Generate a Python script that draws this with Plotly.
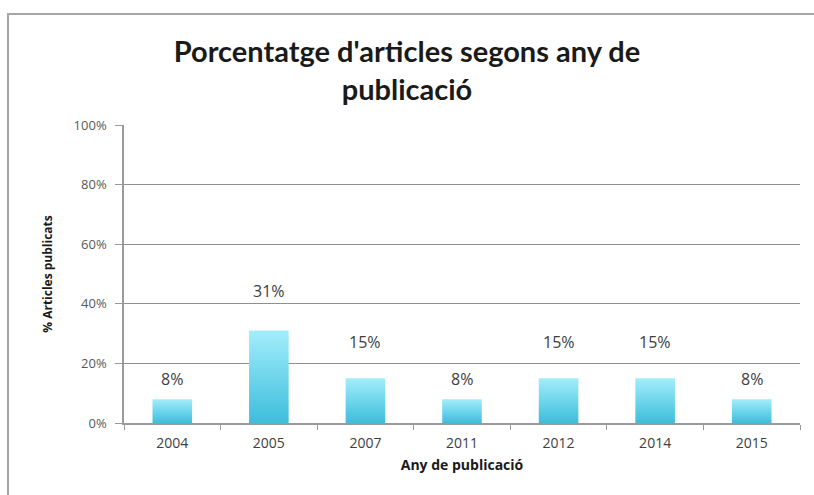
import plotly.graph_objects as go

# Share of articles by year of publication
years = ["2004", "2005", "2007", "2011", "2012", "2014", "2015"]
percent = [8, 31, 15, 8, 15, 15, 8]
y_ticks = [0, 20, 40, 60, 80, 100]

# Vertical offset (px) of each value label above its bar
label_lift = [20, 40, 36, 20, 36, 36, 20]

W, H = 814, 495
ML, MR, MT, MB = 124, 14, 125, 72
plot_w = W - ML - MR
plot_h = H - MT - MB

bar_half = 0.205
fig = go.Figure()

for i, v in enumerate(percent):
    fig.add_trace(go.Scatter(
        x=[i - bar_half, i - bar_half, i + bar_half, i + bar_half, i - bar_half],
        y=[0, v, v, 0, 0],
        mode="lines",
        line=dict(width=0),
        fill="toself",
        fillgradient=dict(
            type="vertical",
            colorscale=[[0, "#3cbedc"], [1, "#a3edfb"]],
            start=0, stop=v,
        ),
        hoverinfo="skip",
        showlegend=False,
    ))

for i, v in enumerate(percent):
    fig.add_annotation(
        x=i, y=v, text=f"{v}%", showarrow=False,
        yshift=label_lift[i], yanchor="middle",
        font=dict(family="Open Sans, sans-serif", size=16, color="#404040"),
    )

# Chart frame
fig.add_shape(
    type="rect", xref="paper", yref="paper",
    x0=(8 - ML) / plot_w, x1=1.1,
    y0=-0.3, y1=(H - MB - 14) / plot_h,
    line=dict(color="#a6a6a6", width=2),
)

fig.update_layout(
    width=W, height=H,
    margin=dict(l=ML, r=MR, t=MT, b=MB),
    paper_bgcolor="white", plot_bgcolor="white",
    title=dict(
        text="<b>Porcentatge d'articles segons any de<br>publicació</b>",
        x=407 / W, xanchor="center", y=1 - 62 / H, yanchor="middle",
        font=dict(family="Lato, sans-serif", size=29, color="#1a1a1a"),
    ),
    xaxis=dict(
        range=[-0.5, len(years) - 0.5],
        tickvals=list(range(len(years))), ticktext=years,
        ticks="", showgrid=False, zeroline=False,
        showline=True, linecolor="#9a9a9a", linewidth=1.5,
        ticklabelstandoff=6,
        tickfont=dict(family="Open Sans, sans-serif", size=14, color="#404040"),
        minor=dict(tickvals=[k - 0.5 for k in range(len(years) + 1)],
                   ticks="outside", ticklen=5, tickcolor="#9a9a9a", tickwidth=1),
        title=dict(text="<b>Any de publicació</b>", standoff=10,
                   font=dict(family="Open Sans, sans-serif", size=14, color="#1a1a1a")),
        fixedrange=True,
    ),
    yaxis=dict(
        range=[0, 100], tickvals=y_ticks, ticktext=[f"{t}%" for t in y_ticks],
        ticks="outside", ticklen=7, tickcolor="#9a9a9a",
        showgrid=True, gridcolor="#8f8f8f", gridwidth=1, zeroline=False,
        showline=True, linecolor="#9a9a9a", linewidth=1.5,
        ticklabelstandoff=6,
        tickfont=dict(family="Open Sans, sans-serif", size=13, color="#595959"),
        title=dict(text="<b>% Articles publicats</b>", standoff=18,
                   font=dict(family="Open Sans, sans-serif", size=12, color="#1a1a1a")),
        fixedrange=True,
    ),
)

fig.write_html("out.html")
